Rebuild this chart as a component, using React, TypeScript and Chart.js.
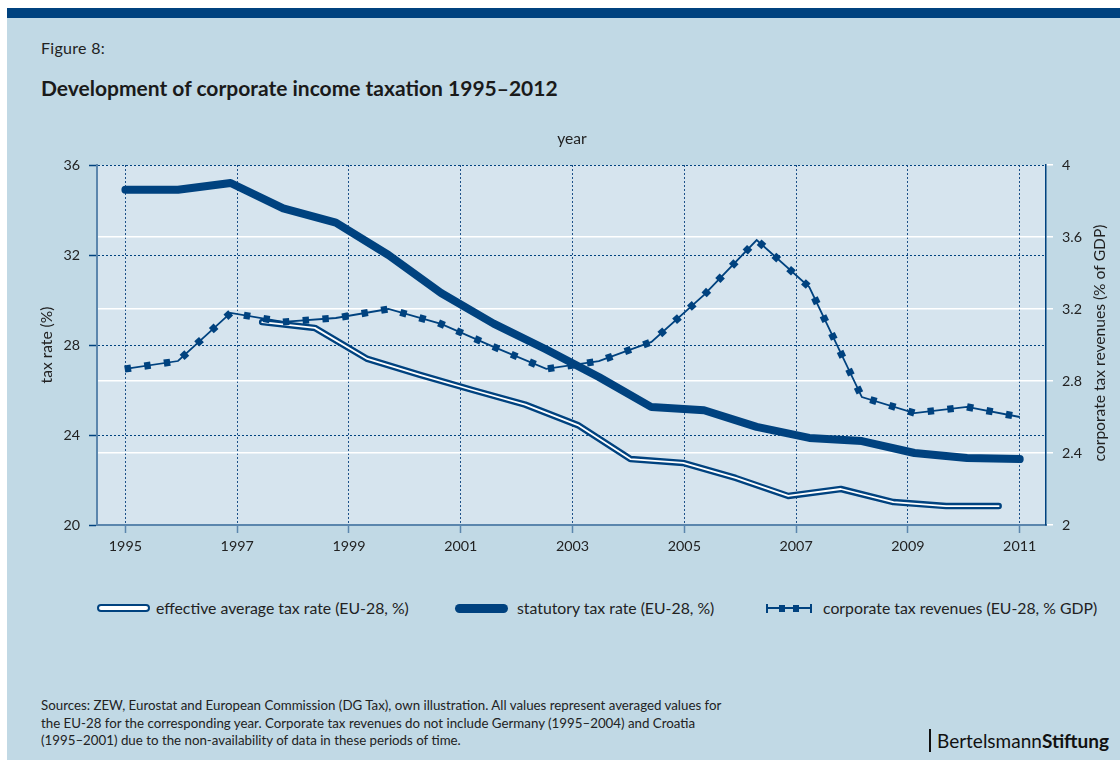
import React, { useEffect, useRef } from 'react';
import { Chart, registerables } from 'chart.js';

Chart.register(...registerables);

// ---------- data ----------
const yearLabels = ['1995', '1997', '1999', '2001', '2003', '2005', '2007', '2009', '2011'];
// statutory tax rate (EU-28, %), 18 yearly points 1995–2012
const statutoryRate = [34.9, 34.9, 35.2, 34.07, 33.44, 32.0, 30.31, 28.95, 27.8, 26.58, 25.24, 25.1, 24.36, 23.87, 23.73, 23.2, 22.98, 22.93];
// corporate tax revenues (EU-28, % GDP), 18 yearly points 1995–2012
const taxRevenues = [2.867, 2.911, 3.178, 3.128, 3.15, 3.2, 3.117, 2.99, 2.867, 2.91, 3.017, 3.278, 3.583, 3.322, 2.711, 2.622, 2.656, 2.6];
// effective average tax rate (EU-28, %), 15 points
const effectiveRate = [29.02, 28.76, 27.38, 26.67, 26.0, 25.35, 24.44, 22.93, 22.76, 22.09, 21.29, 21.6, 21.02, 20.84, 20.84];
const effectiveStart = 2.6; // position of first effective point on the category axis
const leftAxis = { min: 20, max: 36, step: 4 };
const rightAxis = { min: 2, max: 4, step: 0.4 };

const DARK = '#00427f';
const MID = '#5b86ad';
const TEXT = '#222222';
const FONT = 'Lato, "Open Sans", sans-serif';

const plotBg = {
  id: 'plotBg',
  beforeDraw(chart: any) {
    const { ctx, chartArea: a } = chart;
    ctx.save();
    ctx.fillStyle = '#d6e4ee';
    ctx.fillRect(a.left, a.top, a.right - a.left, a.bottom - a.top);
    ctx.restore();
  },
};

const axisTitles = {
  id: 'axisTitles',
  afterDraw(chart: any) {
    const { ctx } = chart;
    ctx.save();
    ctx.fillStyle = TEXT;
    ctx.font = '15.6px ' + FONT;
    ctx.textAlign = 'center';
    ctx.textBaseline = 'middle';
    ctx.fillText('year', 572, 19);
    ctx.save();
    ctx.translate(47, 225);
    ctx.rotate(-Math.PI / 2);
    ctx.fillText('tax rate (%)', 0, 0);
    ctx.restore();
    ctx.save();
    ctx.translate(1100, 223);
    ctx.rotate(-Math.PI / 2);
    ctx.fillText('corporate tax revenues (% of GDP)', 0, 0);
    ctx.restore();
    ctx.restore();
  },
};

const revenueMarkers = {
  id: 'revenueMarkers',
  afterDatasetsDraw(chart: any) {
    const idx = chart.data.datasets.findIndex((d: any) => d.label === 'revenues');
    if (idx < 0) return;
    const meta = chart.getDatasetMeta(idx);
    const pts = meta.data.map((p: any) => ({ x: p.x, y: p.y }));
    const ctx = chart.ctx;
    ctx.save();
    ctx.fillStyle = DARK;
    const spacing = 19.8;
    let next = 2.5;
    let acc = 0;
    for (let i = 0; i < pts.length - 1; i++) {
      const a = pts[i];
      const b = pts[i + 1];
      const dx = b.x - a.x;
      const dy = b.y - a.y;
      const len = Math.hypot(dx, dy);
      const ang = Math.atan2(dy, dx);
      while (next <= acc + len) {
        const t = (next - acc) / len;
        ctx.save();
        ctx.translate(a.x + dx * t, a.y + dy * t);
        ctx.rotate(ang);
        ctx.fillRect(-3.2, -3.6, 6.4, 7.2);
        ctx.restore();
        next += spacing;
      }
      acc += len;
    }
    ctx.restore();
  },
};

function ChartCanvas() {
  const ref = useRef<HTMLCanvasElement | null>(null);
  useEffect(() => {
    if (!ref.current) return;
    const idxPts = (vals: number[], start: number) => vals.map((v, i) => ({ x: start + i, y: v }));
    const tickFont = { family: FONT, size: 14.3 };
    const chart = new Chart(ref.current, {
      type: 'line',
      data: {
        datasets: [
          {
            label: 'revenues',
            data: idxPts(taxRevenues, 0),
            yAxisID: 'y2',
            borderColor: DARK,
            borderWidth: 1.8,
            pointRadius: 0,
            tension: 0,
            order: 0,
          },
          {
            label: 'statutory',
            data: idxPts(statutoryRate, 0),
            yAxisID: 'y',
            borderColor: DARK,
            borderWidth: 8,
            borderCapStyle: 'round',
            borderJoinStyle: 'round',
            pointRadius: 0,
            tension: 0,
            order: 1,
          },
          {
            label: 'effective-inner',
            data: idxPts(effectiveRate, effectiveStart),
            yAxisID: 'y',
            borderColor: '#ffffff',
            borderWidth: 1.8,
            borderCapStyle: 'round',
            borderJoinStyle: 'round',
            pointRadius: 0,
            tension: 0,
            order: 2,
          },
          {
            label: 'effective',
            data: idxPts(effectiveRate, effectiveStart),
            yAxisID: 'y',
            borderColor: DARK,
            borderWidth: 6.5,
            borderCapStyle: 'round',
            borderJoinStyle: 'round',
            pointRadius: 0,
            tension: 0,
            order: 3,
          },
        ],
      },
      options: {
        responsive: false,
        animation: false,
        devicePixelRatio: 1,
        layout: { padding: { top: 45, left: 0, right: 0, bottom: 0 } },
        plugins: { legend: { display: false }, tooltip: { enabled: false }, title: { display: false } },
        scales: {
          x: {
            type: 'linear',
            min: -0.54,
            max: 17.5,
            afterBuildTicks: (s: any) => {
              s.ticks = yearLabels.map((_, k) => ({ value: (k * (statutoryRate.length - 1)) / (yearLabels.length - 1) }));
            },
            afterFit: (s: any) => {
              s.height = 55;
            },
            ticks: {
              autoSkip: false,
              maxRotation: 0,
              padding: 5,
              color: TEXT,
              font: tickFont,
              callback: (_v: any, i: number) => yearLabels[i],
            },
            grid: { color: '#1d5189', lineWidth: 1, tickColor: MID, tickLength: 8, tickWidth: 1.5 },
            border: { color: MID, width: 2, dash: [2, 2] },
          },
          y: {
            position: 'left',
            min: leftAxis.min,
            max: leftAxis.max,
            afterFit: (s: any) => {
              s.width = 97;
            },
            ticks: { stepSize: leftAxis.step, padding: 9, color: TEXT, font: tickFont },
            grid: {
              color: (c: any) => (c.tick && c.tick.value === leftAxis.min ? 'rgba(0,0,0,0)' : DARK),
              lineWidth: 1,
              tickColor: DARK,
              tickLength: 8,
              tickWidth: 1.5,
            },
            border: { color: MID, width: 2, dash: [2, 2] },
          },
          y2: {
            position: 'right',
            min: rightAxis.min,
            max: rightAxis.max,
            afterFit: (s: any) => {
              s.width = 74;
            },
            ticks: {
              stepSize: rightAxis.step,
              padding: 9,
              color: TEXT,
              font: tickFont,
              callback: (v: any) => String(Math.round(Number(v) * 10) / 10),
            },
            grid: {
              color: (c: any) =>
                c.tick && (Math.abs(c.tick.value - rightAxis.min) < 1e-6 || Math.abs(c.tick.value - rightAxis.max) < 1e-6)
                  ? 'rgba(0,0,0,0)'
                  : '#ffffff',
              lineWidth: 1.5,
              tickColor: '#ffffff',
              tickLength: 7,
              tickWidth: 1.5,
            },
            border: { color: DARK, width: 1.5 },
          },
        },
      },
      plugins: [plotBg, axisTitles, revenueMarkers],
    } as any);
    return () => chart.destroy();
  }, []);
  return (
    <canvas
      ref={ref}
      width={1120}
      height={460}
      style={{ position: 'absolute', left: 0, top: 120, width: 1120, height: 460 }}
    />
  );
}

const abs = (left: number, top: number, extra: any = {}) => ({ position: 'absolute' as const, left, top, ...extra });

export default function App() {
  const legendText = { fontFamily: FONT, fontSize: 15.8, color: TEXT, lineHeight: '20px', whiteSpace: 'nowrap' as const };
  return (
    <div style={{ position: 'absolute', left: 0, top: 0, width: 1120, height: 760, background: '#ffffff', overflow: 'hidden', fontFamily: FONT }}>
      <div style={abs(7, 8, { width: 1113, height: 752, background: '#c1d9e5' })} />
      <div style={abs(7, 8, { width: 1113, height: 10, background: DARK })} />
      <div style={abs(41, 38, { fontSize: 16, color: TEXT, lineHeight: '20px', letterSpacing: '0.3px' })}>Figure 8:</div>
      <div style={abs(41, 75, { fontSize: 21, fontWeight: 700, color: '#1a1a1a', lineHeight: '26px', whiteSpace: 'nowrap' })}>
        Development of corporate income taxation 1995–2012
      </div>
      <ChartCanvas />
      {/* legend */}
      <div style={abs(97, 604, { width: 53, height: 8, boxSizing: 'border-box', border: `2.3px solid ${DARK}`, borderRadius: 4, background: '#fff' })} />
      <div style={abs(156, 598, legendText)}>effective average tax rate (EU-28, %)</div>
      <div style={abs(455, 603.5, { width: 53, height: 9, borderRadius: 4.5, background: DARK })} />
      <div style={abs(517, 598, legendText)}>statutory tax rate (EU-28, %)</div>
      <div style={abs(766, 607, { width: 46, height: 2, background: DARK })} />
      <div style={abs(766, 603.5, { width: 2, height: 9, background: DARK })} />
      <div style={abs(810, 603.5, { width: 2, height: 9, background: DARK })} />
      <div style={abs(779, 604.5, { width: 6, height: 7, background: DARK })} />
      <div style={abs(793, 604.5, { width: 6, height: 7, background: DARK })} />
      <div style={abs(823, 598, legendText)}>corporate tax revenues (EU-28, % GDP)</div>
      {/* footnote */}
      <div style={abs(41, 697, { fontSize: 13.3, color: TEXT, lineHeight: '17.5px', width: 760, whiteSpace: 'nowrap' })}>
        Sources: ZEW, Eurostat and European Commission (DG Tax), own illustration. All values represent averaged values for
        <br />
        the EU-28 for the corresponding year. Corporate tax revenues do not include Germany (1995–2004) and Croatia
        <br />
        (1995–2001) due to the non-availability of data in these periods of time.
      </div>
      <div style={abs(929, 729, { width: 1.5, height: 23, background: '#111' })} />
      <div style={abs(937, 729, { fontSize: 19, color: '#111', lineHeight: '24px', whiteSpace: 'nowrap' })}>
        Bertelsmann<span style={{ fontWeight: 700 }}>Stiftung</span>
      </div>
    </div>
  );
}
